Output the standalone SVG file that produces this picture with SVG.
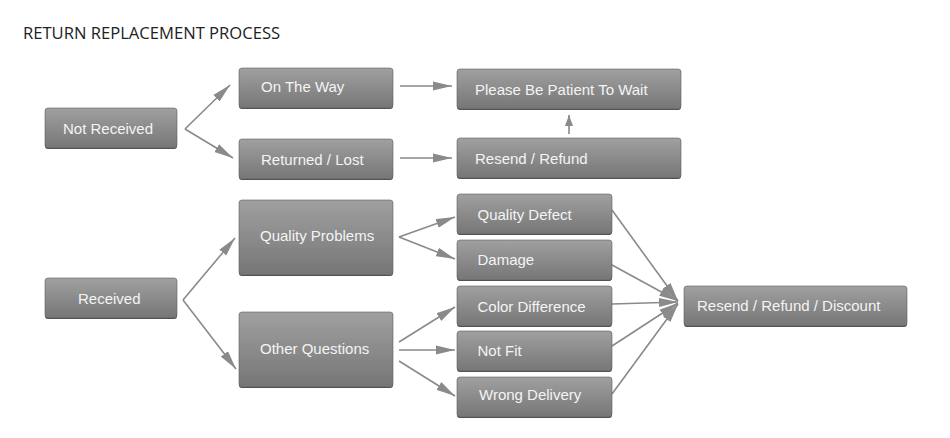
<svg xmlns="http://www.w3.org/2000/svg" width="950" height="438" viewBox="0 0 950 438">
<defs>
<linearGradient id="g" x1="0" y1="0" x2="0" y2="1">
<stop offset="0" stop-color="#a0a0a0"/>
<stop offset="1" stop-color="#767676"/>
</linearGradient>
<marker id="ah" markerUnits="userSpaceOnUse" markerWidth="20" markerHeight="10" refX="19" refY="5" orient="auto">
<path d="M0,0.5 L19,5 L0,9.5 z" fill="#8a8a8a"/>
</marker>
<marker id="ahs" markerUnits="userSpaceOnUse" markerWidth="12" markerHeight="10" refX="11" refY="5" orient="auto">
<path d="M0,1 L11,5 L0,9 z" fill="#8a8a8a"/>
</marker>
<style>
.box{fill:url(#g);stroke:#5e5e5e;stroke-width:0.6}
.sh{fill:#4e4e4e}
.t{font-family:"Liberation Sans",Arial,sans-serif;font-size:15px;fill:#f4f4f4}
.c{fill:none;stroke:#8a8a8a;stroke-width:1.6;marker-end:url(#ah)}
.title{font-family:"Open Sans","Noto Sans",sans-serif;font-size:16.6px;fill:#222}
</style>
</defs>
<rect width="950" height="438" fill="#ffffff"/>
<text class="title" x="23" y="39">RETURN REPLACEMENT PROCESS</text>

<g id="connectors">
<line class="c" x1="185" y1="129" x2="230" y2="85"/>
<line class="c" x1="185" y1="129" x2="233" y2="158"/>
<line class="c" x1="400" y1="86" x2="452" y2="86"/>
<line class="c" x1="400" y1="158" x2="452" y2="158"/>
<line class="c" x1="569" y1="134" x2="569" y2="115" style="marker-end:url(#ahs)"/>
<line class="c" x1="183" y1="300" x2="235" y2="238"/>
<line class="c" x1="183" y1="300" x2="236" y2="369"/>
<line class="c" x1="399" y1="237" x2="455" y2="217"/>
<line class="c" x1="399" y1="237" x2="455" y2="259"/>
<line class="c" x1="399" y1="342" x2="455" y2="307"/>
<line class="c" x1="399" y1="350" x2="455" y2="350"/>
<line class="c" x1="399" y1="361" x2="455" y2="396"/>
<line class="c" x1="612" y1="210" x2="678" y2="301"/>
<line class="c" x1="612" y1="265" x2="678" y2="301"/>
<line class="c" x1="612" y1="304" x2="678" y2="302"/>
<line class="c" x1="612" y1="346" x2="678" y2="303"/>
<line class="c" x1="612" y1="394" x2="678" y2="304"/>
</g>

<g id="not-received"><rect class="sh" x="45" y="109" width="132" height="40" rx="3"/><rect class="box" x="45" y="108" width="132" height="40" rx="3"/><text class="t" x="63" y="133.5">Not Received</text></g>
<g id="on-the-way"><rect class="sh" x="239" y="69" width="154" height="40" rx="3"/><rect class="box" x="239" y="68" width="154" height="40" rx="3"/><text class="t" x="261" y="92">On The Way</text></g>
<g id="returned-lost"><rect class="sh" x="239" y="140" width="154" height="40" rx="3"/><rect class="box" x="239" y="139" width="154" height="40" rx="3"/><text class="t" x="261" y="165">Returned / Lost</text></g>
<g id="please-wait"><rect class="sh" x="457" y="70" width="224" height="40" rx="3"/><rect class="box" x="457" y="69" width="224" height="40" rx="3"/><text class="t" x="475" y="95">Please Be Patient To Wait</text></g>
<g id="resend-refund"><rect class="sh" x="457" y="139" width="224" height="40" rx="3"/><rect class="box" x="457" y="138" width="224" height="40" rx="3"/><text class="t" x="475" y="163.5">Resend / Refund</text></g>
<g id="received"><rect class="sh" x="45" y="279" width="132" height="40" rx="3"/><rect class="box" x="45" y="278" width="132" height="40" rx="3"/><text class="t" x="78" y="303.5">Received</text></g>
<g id="quality-problems"><rect class="sh" x="239" y="201" width="154" height="75" rx="3"/><rect class="box" x="239" y="200" width="154" height="75" rx="3"/><text class="t" x="260" y="241">Quality Problems</text></g>
<g id="other-questions"><rect class="sh" x="239" y="313" width="154" height="75" rx="3"/><rect class="box" x="239" y="312" width="154" height="75" rx="3"/><text class="t" x="260" y="353.5">Other Questions</text></g>
<g id="quality-defect"><rect class="sh" x="457" y="195" width="155" height="40" rx="3"/><rect class="box" x="457" y="194" width="155" height="40" rx="3"/><text class="t" x="477.5" y="220">Quality Defect</text></g>
<g id="damage"><rect class="sh" x="457" y="241" width="155" height="40" rx="3"/><rect class="box" x="457" y="240" width="155" height="40" rx="3"/><text class="t" x="477.5" y="265">Damage</text></g>
<g id="color-difference"><rect class="sh" x="457" y="287" width="155" height="40" rx="3"/><rect class="box" x="457" y="286" width="155" height="40" rx="3"/><text class="t" x="477.5" y="312">Color Difference</text></g>
<g id="not-fit"><rect class="sh" x="457" y="332" width="155" height="40" rx="3"/><rect class="box" x="457" y="331" width="155" height="40" rx="3"/><text class="t" x="477.5" y="356">Not Fit</text></g>
<g id="wrong-delivery"><rect class="sh" x="457" y="378" width="155" height="40" rx="3"/><rect class="box" x="457" y="377" width="155" height="40" rx="3"/><text class="t" x="479" y="399.5">Wrong Delivery</text></g>
<g id="resend-refund-discount"><rect class="sh" x="684" y="287" width="223" height="40" rx="3"/><rect class="box" x="684" y="286" width="223" height="40" rx="3"/><text class="t" x="697" y="311">Resend / Refund / Discount</text></g>
</svg>
